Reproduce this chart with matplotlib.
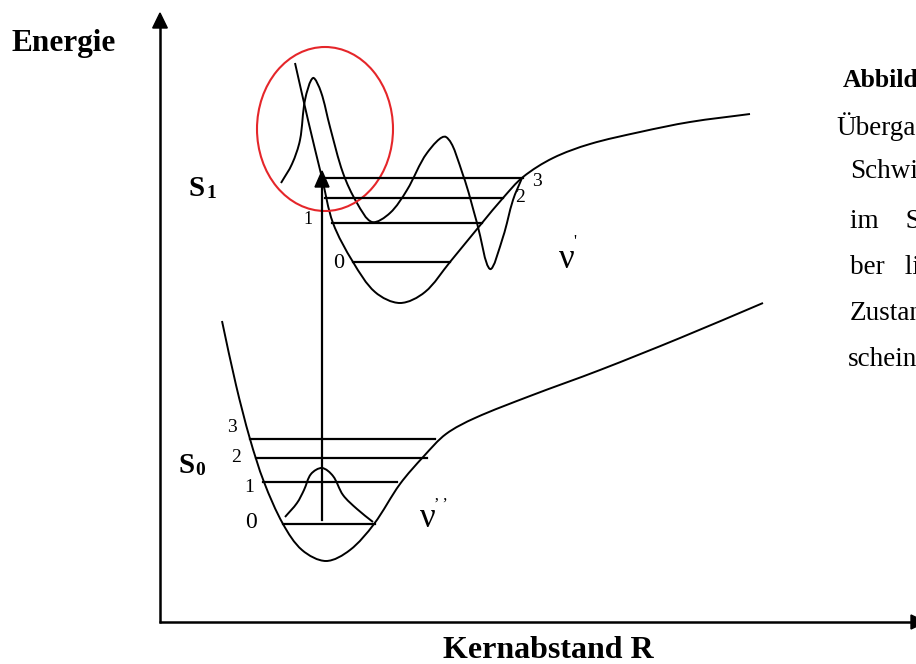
import numpy as np
import matplotlib
matplotlib.use('Agg')
import matplotlib.pyplot as plt
from matplotlib.path import Path
from matplotlib.patches import PathPatch, Ellipse, Polygon

plt.rcParams['font.family'] = ['Liberation Serif', 'DejaVu Serif']

# Potentialkurven (Pixelkoordinaten, y nach unten)
s1_curve = [(295, 63), (308, 120), (322, 178), (333, 223), (353, 262), (375, 292),
            (400, 303), (425, 292), (450, 262), (482, 223), (503, 198), (523, 177),
            (553, 158), (590, 144), (640, 132), (690, 122), (750, 114)]
s0_curve = [(222, 321), (236, 385), (250, 439), (264, 482), (283, 524), (302, 550),
            (326, 561), (350, 550), (374, 524), (400, 484), (424, 456), (446, 434),
            (475, 418), (530, 396), (600, 370), (680, 338), (763, 303)]

# Wellenfunktionen
s1_wave = [(281, 183), (292, 164), (300, 140), (305, 100), (313, 78), (321, 92),
           (330, 127), (343, 173), (357, 203), (372, 222), (390, 213), (407, 190),
           (427, 153), (446, 137), (463, 175), (477, 223), (490, 269), (503, 237),
           (513, 200), (522, 178)]
s0_wave = [(285, 517), (297, 503), (304, 490), (311, 474), (322, 468), (333, 476),
           (343, 495), (357, 509), (373, 522)]

# Schwingungsniveaus
s1_levels = ['0', '1', '2', '3']
s1_level_y = [262, 223, 198, 178]
s1_level_x0 = [353, 332, 325, 322]
s1_level_x1 = [450, 482, 503, 523]
s1_label_xy = [(339, 263), (308, 219), (520, 197), (537, 181)]
s1_label_size = [16, 13, 14, 14]

s0_levels = ['0', '1', '2', '3']
s0_level_y = [524, 482, 458, 439]
s0_level_x0 = [283, 263, 256, 250]
s0_level_x1 = [375, 397, 427, 435]
s0_label_xy = [(251, 523), (249, 487), (236, 458), (232, 428)]
s0_label_size = [17, 14, 14, 14]

caption_lines = ['Abbildung', 'Übergang', 'Schwingungs', 'im    S', 'ber   li', 'Zustand', 'scheinlich']
caption_x = [843, 836, 850, 850, 850, 850, 848]
caption_y = [81, 127, 172, 222, 268, 313, 360]


def smooth_path(pts):
    # glatte Kurve durch die Stützpunkte (Tangenten nach Sehnenlänge gewichtet)
    p = np.array(pts, dtype=float)
    d = np.linalg.norm(np.diff(p, axis=0), axis=1)
    t = np.zeros_like(p)
    t[0] = (p[1] - p[0]) / d[0]
    t[-1] = (p[-1] - p[-2]) / d[-1]
    for i in range(1, len(p) - 1):
        t[i] = (p[i + 1] - p[i - 1]) / (d[i - 1] + d[i])
    verts = [tuple(p[0])]
    codes = [Path.MOVETO]
    for i in range(len(p) - 1):
        c1 = p[i] + t[i] * d[i] / 3
        c2 = p[i + 1] - t[i + 1] * d[i] / 3
        verts += [tuple(c1), tuple(c2), tuple(p[i + 1])]
        codes += [Path.CURVE4] * 3
    return Path(verts, codes)


fig = plt.figure(figsize=(9.16, 6.64), dpi=100)
ax = fig.add_axes([0, 0, 1, 1])
ax.set_xlim(0, 916)
ax.set_ylim(664, 0)
ax.axis('off')

# Achsen mit Pfeilspitzen
ax.plot([160, 160], [623, 26], color='black', lw=1.8, solid_capstyle='butt')
ax.plot([159, 912], [622, 622], color='black', lw=1.8, solid_capstyle='butt')
ax.add_patch(Polygon([(160, 13), (152.7, 28), (167.3, 28)], closed=True, color='black'))
ax.add_patch(Polygon([(926, 622), (911, 615), (911, 629)], closed=True, color='black'))

# Kurven
for pts in [s1_curve, s0_curve, s1_wave, s0_wave]:
    ax.add_patch(PathPatch(smooth_path(pts), fill=False, color='black', lw=1.4,
                           capstyle='butt'))

# Niveaus
for y, x0, x1 in zip(s1_level_y, s1_level_x0, s1_level_x1):
    ax.plot([x0, x1], [y, y], color='black', lw=1.6)
for y, x0, x1 in zip(s0_level_y, s0_level_x0, s0_level_x1):
    ax.plot([x0, x1], [y, y], color='black', lw=1.6)
for lab, (x, y), fs in zip(s1_levels, s1_label_xy, s1_label_size):
    ax.text(x, y, lab, fontsize=fs, ha='center', va='center')
for lab, (x, y), fs in zip(s0_levels, s0_label_xy, s0_label_size):
    ax.text(x, y, lab, fontsize=fs, ha='center', va='center')

# Vertikaler Übergang
ax.plot([322, 322], [520, 185], color='black', lw=1.6)
ax.add_patch(Polygon([(322, 171), (315, 187), (329, 187)], closed=True, color='black'))

# Franck-Condon-Bereich
ax.add_patch(Ellipse((325, 129), 136, 164, fill=False, edgecolor='#e5262a', lw=1.5))

# Beschriftungen
ax.text(12, 43, 'Energie', fontsize=22.5, fontweight='bold', ha='left', va='center')
ax.text(548, 650, 'Kernabstand R', fontsize=23, fontweight='bold', ha='center', va='center')
ax.text(188, 196, 'S', fontsize=21, fontweight='bold', ha='left', va='baseline')
ax.text(206, 198, '1', fontsize=14, fontweight='bold', ha='left', va='baseline')
ax.text(179, 473, 'S', fontsize=21, fontweight='bold', ha='left', va='baseline')
ax.text(195, 475, '0', fontsize=14, fontweight='bold', ha='left', va='baseline')
ax.text(567, 268, 'ν', fontsize=25, ha='center', va='baseline')
ax.text(575, 246, "'", fontsize=12, ha='center', va='baseline')
ax.text(428, 527, 'ν', fontsize=25, ha='center', va='baseline')
ax.text(441, 509, '’ ’', fontsize=12, ha='center', va='baseline')

for txt, x, y in zip(caption_lines, caption_x, caption_y):
    bold = txt.startswith('Abb')
    ax.text(x, y, txt, fontsize=18.5 if bold else 19.5, ha='left', va='center',
            fontweight='bold' if bold else 'normal')

fig.savefig('out.png', dpi=100)
